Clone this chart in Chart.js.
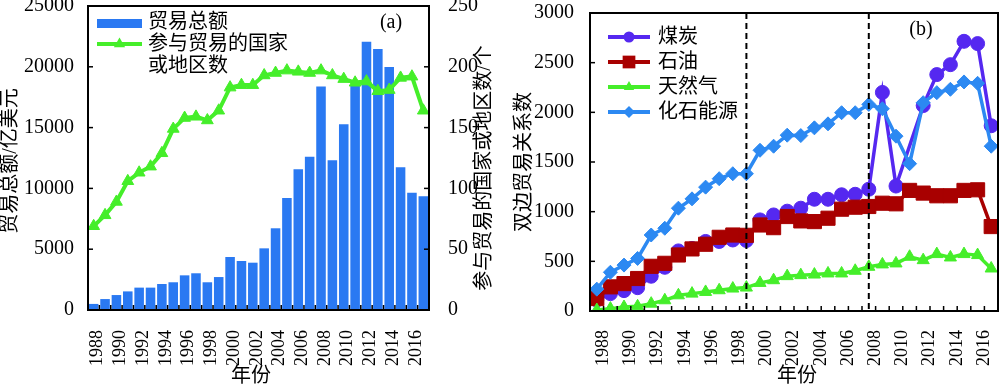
<!DOCTYPE html>
<html><head><meta charset="utf-8">
<script src="https://cdn.jsdelivr.net/npm/chart.js@4.4.1/dist/chart.umd.min.js"></script>
<style>
html,body{margin:0;padding:0;background:#fff;}
#wrap{position:relative;width:1000px;height:389px;overflow:hidden;}
.pane{position:absolute;top:0;width:500px;height:389px;}
canvas{display:block;}
</style></head><body>
<div id="wrap">
<div class="pane" style="left:0"><canvas id="ca" width="500" height="389"></canvas></div>
<div class="pane" style="left:500px"><canvas id="cb" width="500" height="389"></canvas></div>
</div>
<script>
// ---------- data ----------
const years = ['1988','1989','1990','1991','1992','1993','1994','1995','1996','1997','1998','1999','2000','2001','2002','2003','2004','2005','2006','2007','2008','2009','2010','2011','2012','2013','2014','2015','2016','2017'];
const tickLabels = ['1988','1990','1992','1994','1996','1998','2000','2002','2004','2006','2008','2010','2012','2014','2016'];

// panel (a)
const tradeTotal = [500, 900, 1230, 1530, 1840, 1840, 2140, 2280, 2850, 3020, 2280, 2710, 4360, 4030, 3890, 5070, 6720, 9210, 11570, 12610, 18390, 12310, 15270, 18500, 22070, 21460, 19980, 11730, 9650, 9350];
const countryCount = [69, 78, 89, 106, 113, 118, 129, 149, 158, 159, 156, 164, 183, 185, 185, 193, 195, 197, 196, 195, 197, 193, 190, 187, 188, 180, 181, 191, 192, 164];
const namesA = ['贸易总额', ['参与贸易的国家', '或地区数']];
const leftTicksA = [0, 5000, 10000, 15000, 20000, 25000];
const rightTicksA = [0, 50, 100, 150, 200, 250];

// panel (b)
const coal = [110, 175, 205, 235, 350, 440, 605, 630, 700, 700, 715, 710, 917, 967, 1005, 1035, 1125, 1125, 1170, 1175, 1226, 2200, 1258, null, 2068, 2380, 2480, 2715, 2692, 1865];
const oil = [125, 243, 276, 327, 450, 480, 564, 625, 672, 742, 765, 762, 866, 839, 951, 907, 900, 934, 1025, 1045, 1052, 1085, 1079, 1214, 1187, 1160, 1160, 1214, 1220, 850];
const gas = [10, 24, 40, 47, 74, 108, 158, 175, 192, 209, 226, 236, 283, 310, 351, 361, 367, 378, 378, 405, 445, 469, 479, 546, 512, 573, 539, 573, 563, 428];
const fossil = [220, 390, 462, 529, 765, 833, 1035, 1129, 1247, 1332, 1382, 1382, 1618, 1659, 1770, 1766, 1844, 1884, 1996, 1996, 2080, 2036, 1760, 1483, 2097, 2198, 2232, 2306, 2292, 1659];
const namesB = ['煤炭', '石油', '天然气', '化石能源'];
const leftTicksB = [0, 500, 1000, 1500, 2000, 2500, 3000];
const dashedYears = ['1999', '2008'];

// ---------- styles ----------
const SERIF = 'Liberation Serif';
const CJK = '"Liberation Serif","Noto Sans CJK SC",sans-serif';
const C_BAR = '#2A79F2';
const C_GREEN = '#45EE2A';
const C_COAL = '#5528F0';
const C_OIL = '#A80000';
const C_FOSSIL = '#2C89F2';

function marker(ctx, style, x, y, r, color){
  ctx.save();
  ctx.fillStyle = color;
  ctx.beginPath();
  if (style === 'circle') { ctx.arc(x, y, r, 0, Math.PI*2); }
  else if (style === 'rect') { const s = r*Math.SQRT1_2; ctx.rect(x-s, y-s, 2*s, 2*s); }
  else if (style === 'triangle') {
    for (let k=0;k<3;k++){ const a = k*2*Math.PI/3; const px = x + Math.sin(a)*r, py = y - Math.cos(a)*r; k? ctx.lineTo(px,py) : ctx.moveTo(px,py); }
    ctx.closePath();
  } else if (style === 'rectRot') {
    ctx.moveTo(x, y-r); ctx.lineTo(x+r, y); ctx.lineTo(x, y+r); ctx.lineTo(x-r, y); ctx.closePath();
  }
  ctx.fill();
  ctx.restore();
}
function seg(ctx, x1, y1, x2, y2){ ctx.beginPath(); ctx.moveTo(x1,y1); ctx.lineTo(x2,y2); ctx.stroke(); }
function vtext(ctx, txt, x, y, font){
  ctx.save(); ctx.translate(x, y); ctx.rotate(-Math.PI/2);
  ctx.font = font; ctx.fillStyle = '#000'; ctx.textAlign = 'center'; ctx.textBaseline = 'middle';
  ctx.fillText(txt, 0, 0); ctx.restore();
}
function drawFrameTicks(chart, yScales){
  const ctx = chart.ctx, a = chart.chartArea, xs = chart.scales.x;
  ctx.save();
  ctx.strokeStyle = '#000'; ctx.lineWidth = 1.5;
  for (let i = 0; i <= years.length; i++) {
    const px = xs.getPixelForValue(i - 0.5);
    seg(ctx, px, a.bottom, px, a.bottom - 5);
  }
  yScales.forEach(([id, side]) => {
    const s = chart.scales[id];
    s.ticks.forEach(t => {
      const py = s.getPixelForValue(t.value);
      if (side === 'left') seg(ctx, a.left, py, a.left + 5, py);
      else seg(ctx, a.right, py, a.right - 5, py);
    });
  });
  ctx.lineWidth = 2;
  ctx.strokeRect(a.left, a.top, a.right - a.left, a.bottom - a.top);
  ctx.restore();
}

function fixAxis(w, h){
  return function(s){
    if (w !== null) s.width = w;
    if (h !== null) s.height = h;
    s.paddingTop = 0; s.paddingBottom = 0; s.paddingLeft = 0; s.paddingRight = 0;
  };
}
const plainNum = v => String(v);
function xAxis(labelOffset, padding, h){
  return {
    type: 'category', offset: true,
    grid: { display: false }, border: { display: false },
    afterFit: fixAxis(null, h),
    ticks: {
      autoSkip: false, minRotation: 90, maxRotation: 90, labelOffset: labelOffset, padding: padding,
      color: '#000', font: { family: SERIF, size: 18 },
      callback: function(v){ const lab = this.getLabelForValue(v); return tickLabels.includes(lab) ? lab : ''; }
    }
  };
}

// ---------- panel (a) ----------
const decorA = {
  id: 'decorA',
  afterDraw(chart){
    const ctx = chart.ctx;
    drawFrameTicks(chart, [['y','left'],['y1','right']]);
    ctx.save();
    // legend
    ctx.fillStyle = C_BAR; ctx.fillRect(97, 19, 45, 9);
    ctx.strokeStyle = C_GREEN; ctx.lineWidth = 4; seg(ctx, 97, 44, 142, 44);
    marker(ctx, 'triangle', 119.5, 44, 6.5, C_GREEN);
    ctx.font = '20px ' + CJK; ctx.fillStyle = '#000'; ctx.textAlign = 'left'; ctx.textBaseline = 'middle';
    ctx.fillText(namesA[0], 148, 23);
    ctx.fillText(namesA[1][0], 148, 45);
    ctx.fillText(namesA[1][1], 148, 67);
    ctx.font = '20px ' + CJK; ctx.textAlign = 'center';
    ctx.fillText('(a)', 391, 23);
    ctx.fillText('年份', 251, 377);
    ctx.restore();
    vtext(ctx, '贸易总额/亿美元', 11, 161, '20px ' + CJK);
    vtext(ctx, '参与贸易的国家或地区数/个', 485, 168, '20px ' + CJK);
  }
};

new Chart(document.getElementById('ca'), {
  type: 'bar',
  data: {
    labels: years,
    datasets: [
      { type: 'line', label: namesA[1].join(''), data: countryCount, yAxisID: 'y1', order: 1,
        borderColor: C_GREEN, backgroundColor: C_GREEN, borderWidth: 4, tension: 0,
        pointStyle: 'triangle', pointRadius: 6.8, pointBackgroundColor: C_GREEN, pointBorderColor: C_GREEN, pointBorderWidth: 1 },
      { type: 'bar', label: namesA[0], data: tradeTotal, yAxisID: 'y', order: 2,
        backgroundColor: C_BAR, borderWidth: 0, barPercentage: 0.84, categoryPercentage: 1.0 }
    ]
  },
  options: {
    responsive: false, animation: false, devicePixelRatio: 1,
    layout: { padding: { top: 6, left: 0, right: 0, bottom: 0 }, autoPadding: false },
    plugins: { legend: { display: false }, tooltip: { enabled: false } },
    scales: {
      x: xAxis(4, 12, 79),
      y: { position: 'left', min: leftTicksA[0], max: leftTicksA[leftTicksA.length-1],
           grid: { display: false }, border: { display: false }, afterFit: fixAxis(88, null),
           afterBuildTicks: s => { s.ticks = leftTicksA.map(v => ({ value: v })); },
           ticks: { padding: 6, color: '#000', font: { family: SERIF, size: 20 }, callback: plainNum } },
      y1: { position: 'right', min: rightTicksA[0], max: rightTicksA[rightTicksA.length-1],
           grid: { display: false }, border: { display: false }, afterFit: fixAxis(71, null),
           afterBuildTicks: s => { s.ticks = rightTicksA.map(v => ({ value: v })); },
           ticks: { padding: 11, color: '#000', font: { family: SERIF, size: 20 }, callback: plainNum } }
    }
  },
  plugins: [decorA]
});

// ---------- panel (b) ----------
const stylesB = [
  { color: C_COAL, point: 'circle', r: 7, lr: 5.5 },
  { color: C_OIL, point: 'rect', r: 10, lr: 9 },
  { color: C_GREEN, point: 'triangle', r: 7, lr: 6 },
  { color: C_FOSSIL, point: 'rectRot', r: 7, lr: 6 }
];
const seriesB = [coal, oil, gas, fossil];
const orderB = [3, 2, 1, 0];

const decorB = {
  id: 'decorB',
  afterDatasetsDraw(chart){
    const ctx = chart.ctx, a = chart.chartArea, xs = chart.scales.x;
    ctx.save();
    ctx.strokeStyle = '#000'; ctx.lineWidth = 2; ctx.setLineDash([6, 4]);
    dashedYears.forEach(yr => {
      const px = xs.getPixelForValue(years.indexOf(yr));
      seg(ctx, px, a.top, px, a.bottom);
    });
    ctx.restore();
  },
  afterDraw(chart){
    const ctx = chart.ctx;
    drawFrameTicks(chart, [['y','left']]);
    ctx.save();
    const ly = [37, 62, 87, 112];
    namesB.forEach((nm, i) => {
      const st = stylesB[i];
      ctx.strokeStyle = st.color; ctx.lineWidth = 4; seg(ctx, 108, ly[i], 150, ly[i]);
      marker(ctx, st.point, 129, ly[i], st.lr, st.color);
      ctx.font = '20px ' + CJK; ctx.fillStyle = '#000'; ctx.textAlign = 'left'; ctx.textBaseline = 'middle';
      ctx.fillText(nm, 158, ly[i] + 1);
    });
    ctx.font = '20px ' + CJK; ctx.textAlign = 'center'; ctx.textBaseline = 'middle';
    ctx.fillText('(b)', 421, 30);
    ctx.fillText('年份', 297, 377);
    ctx.restore();
    vtext(ctx, '双边贸易关系数', 25, 162, '20px ' + CJK);
  }
};

new Chart(document.getElementById('cb'), {
  type: 'line',
  data: {
    labels: years,
    datasets: seriesB.map((d, i) => ({
      label: namesB[i], data: d, order: orderB[i], spanGaps: true,
      borderColor: stylesB[i].color, backgroundColor: stylesB[i].color, borderWidth: 3.5, tension: 0,
      pointStyle: stylesB[i].point, pointRadius: stylesB[i].r,
      pointBackgroundColor: stylesB[i].color, pointBorderColor: stylesB[i].color, pointBorderWidth: 1
    }))
  },
  options: {
    responsive: false, animation: false, devicePixelRatio: 1,
    layout: { padding: { top: 13, left: 0, right: 2, bottom: 0 }, autoPadding: false },
    plugins: { legend: { display: false }, tooltip: { enabled: false } },
    scales: {
      x: xAxis(6.5, 11, 78),
      y: { position: 'left', min: leftTicksB[0], max: leftTicksB[leftTicksB.length-1],
           grid: { display: false }, border: { display: false }, afterFit: fixAxis(90, null),
           afterBuildTicks: s => { s.ticks = leftTicksB.map(v => ({ value: v })); },
           ticks: { padding: 8, color: '#000', font: { family: SERIF, size: 20 }, callback: plainNum } }
    }
  },
  plugins: [decorB]
});
</script>
</body></html>
